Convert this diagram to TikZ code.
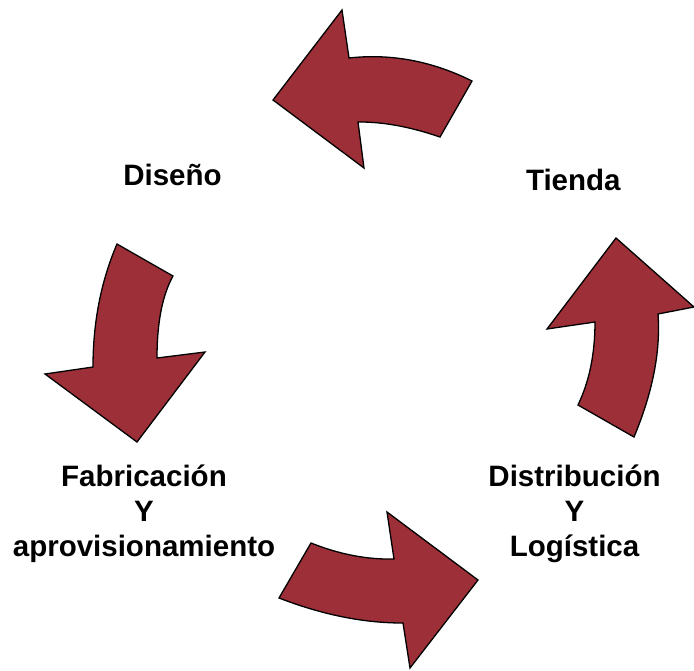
\documentclass[tikz,border=0pt]{standalone}
\usepackage{fontspec}
\setmainfont{Liberation Sans}
\definecolor{arrowred}{RGB}{156,47,55}
\begin{document}
\begin{tikzpicture}[x=1pt,y=-1pt,
  bigarrow/.style={fill=arrowred,draw=black,line width=1.3pt,line join=miter},
  lbl/.style={inner sep=0pt,align=center,font=\bfseries\fontsize{29.5}{35}\selectfont}]
\useasboundingbox (0,0) rectangle (694,670);
% top arrow (pointing left)
\draw[bigarrow] (342,10) -- (349,58) .. controls (391,53.3) and (432.1,61.1) .. (472,81)
  -- (440,137) .. controls (410.5,126.9) and (383.1,121.7) .. (358,122)
  -- (364,168) -- (273,100) -- cycle;
% right arrow (pointing up)
\draw[bigarrow] (616,238) -- (694,307) -- (658,314) .. controls (660.7,351.3) and (652.7,392.3) .. (634,437)
  -- (578,405) .. controls (589.3,381.4) and (595,354) .. (595,322)
  -- (547,329) -- cycle;
% bottom arrow (pointing right)
\draw[bigarrow] (311,543) .. controls (339.6,554.4) and (367.4,559.7) .. (394,559)
  -- (387,512) -- (478,580) -- (410,668) -- (403,623)
  .. controls (363.8,623.1) and (322.5,614.8) .. (279,598) -- cycle;
% left arrow (pointing down)
\draw[bigarrow] (117,244) -- (173,276) .. controls (162.3,295.3) and (157,322.7) .. (157,358)
  -- (205,352) -- (137,442) -- (45,374) -- (93,367)
  .. controls (93,322.3) and (101,281.3) .. (117,244) -- cycle;
% labels
\node[lbl,anchor=base] (diseno) at (172.5,185) {Diseño};
\node[lbl,anchor=base] (tienda) at (573.3,190) {Tienda};
\node[lbl,anchor=base] (fab) at (144,556) {Fabricación\\Y\\aprovisionamiento};
\node[lbl,anchor=base] (dist) at (574.5,556) {Distribución\\Y\\Logística};
\end{tikzpicture}
\end{document}
